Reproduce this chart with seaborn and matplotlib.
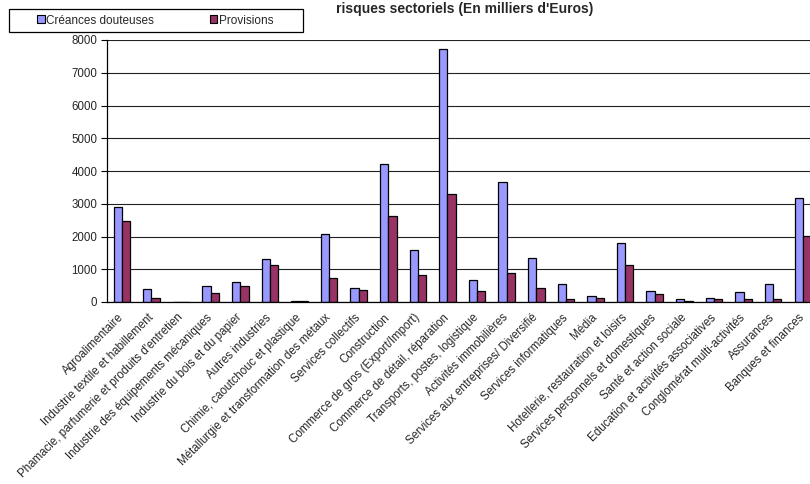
import matplotlib
matplotlib.use("Agg")
import matplotlib.pyplot as plt
from matplotlib.patches import Rectangle, Patch
import seaborn as sns
import pandas as pd
import numpy as np

categories = [
    "Agroalimentaire",
    "Industrie textile et habillement",
    "Phamacie, parfumerie et produits d'entretien",
    "Industrie des équipements mécaniques",
    "Industrie du bois et du papier",
    "Autres industries",
    "Chimie, caoutchouc et plastique",
    "Métallurgie et transformation des métaux",
    "Services collectifs",
    "Construction",
    "Commerce de gros (Export/Import)",
    "Commerce de détail, réparation",
    "Transports, postes, logistique",
    "Activités immobilières",
    "Services aux entreprises/ Diversifié",
    "Services informatiques",
    "Média",
    "Hotellerie, restauration et loisirs",
    "Services personnels et domestiques",
    "Santé et action sociale",
    "Education et activités associatives",
    "Conglomérat multi-activités",
    "Assurances",
    "Banques et finances",
]
creances = [2910, 390, 0, 480, 600, 1310, 40, 2090, 420, 4220, 1600, 7710,
            680, 3650, 1340, 540, 190, 1800, 350, 100, 130, 320, 540, 3170]
provisions = [2460, 130, 0, 285, 475, 1145, 40, 720, 355, 2620, 810, 3300,
              325, 900, 425, 100, 130, 1120, 255, 40, 100, 100, 100, 2010]
series_names = ["Créances douteuses", "Provisions"]
colors = ["#9999FF", "#993366"]
title = "risques sectoriels (En milliers d'Euros)"
yticks = [0, 1000, 2000, 3000, 4000, 5000, 6000, 7000, 8000]

df = pd.DataFrame({
    "cat": categories * 2,
    "serie": [series_names[0]] * len(categories) + [series_names[1]] * len(categories),
    "val": creances + provisions,
})

sns.set_style("white")
plt.rcParams["font.family"] = ["Liberation Sans", "DejaVu Sans"]

fig = plt.figure(figsize=(8.1, 4.84), dpi=100)
W, H = 810, 484
left_px, right_px, top_px, bot_px = 107, 817.6, 40, 302
ax = fig.add_axes([left_px / W, 1 - bot_px / H, (right_px - left_px) / W, (bot_px - top_px) / H])

sns.barplot(data=df, x="cat", y="val", hue="serie", palette=colors, width=0.56,
            edgecolor="black", linewidth=0.9, saturation=1, ax=ax, legend=False)

ax.set_xlim(-0.5, len(categories) - 0.5)
ax.set_ylim(0, 8000)
ax.set_yticks(yticks)
ax.set_yticklabels([str(v) for v in yticks], fontsize=8.3)
ax.yaxis.grid(True, color="#222222", linewidth=0.8)
ax.set_axisbelow(True)
ax.set_xlabel("")
ax.set_ylabel("")

ax.set_xticks(range(len(categories)))
ax.set_xticklabels(categories, rotation=45, ha="right", va="center",
                   rotation_mode="anchor", fontsize=8.3)
ax.tick_params(axis="x", which="major", length=0, pad=10)
ax.set_xticks(np.arange(-0.5, len(categories), 1.0), minor=True)
ax.tick_params(axis="x", which="minor", length=4, width=0.8, color="black", direction="out")
ax.tick_params(axis="y", length=4, width=0.8, color="black", direction="out", pad=3)
ax.tick_params(axis="y", left=True)

for s in ["top", "right"]:
    ax.spines[s].set_visible(False)
for s in ["left", "bottom"]:
    ax.spines[s].set_color("black")
    ax.spines[s].set_linewidth(0.9)

fig.text(465 / W, 1 - 8.5 / H, title, ha="center", va="center", fontsize=10, fontweight="bold")

# legend
handles = [Patch(facecolor=c, edgecolor="black", linewidth=0.8) for c in colors]
fig.legend(handles, series_names, loc="center left", bbox_to_anchor=(37 / W, 1 - 20.5 / H),
           ncol=2, frameon=False, fontsize=8.5, handlelength=0.65, handleheight=0.65,
           handletextpad=0.15, columnspacing=4.7, borderpad=0, borderaxespad=0)
fig.patches.append(Rectangle((9 / W, 1 - 32 / H), 294 / W, 23 / H, transform=fig.transFigure,
                             facecolor="none", edgecolor="black", linewidth=0.9))

fig.savefig("out.png", dpi=100)
